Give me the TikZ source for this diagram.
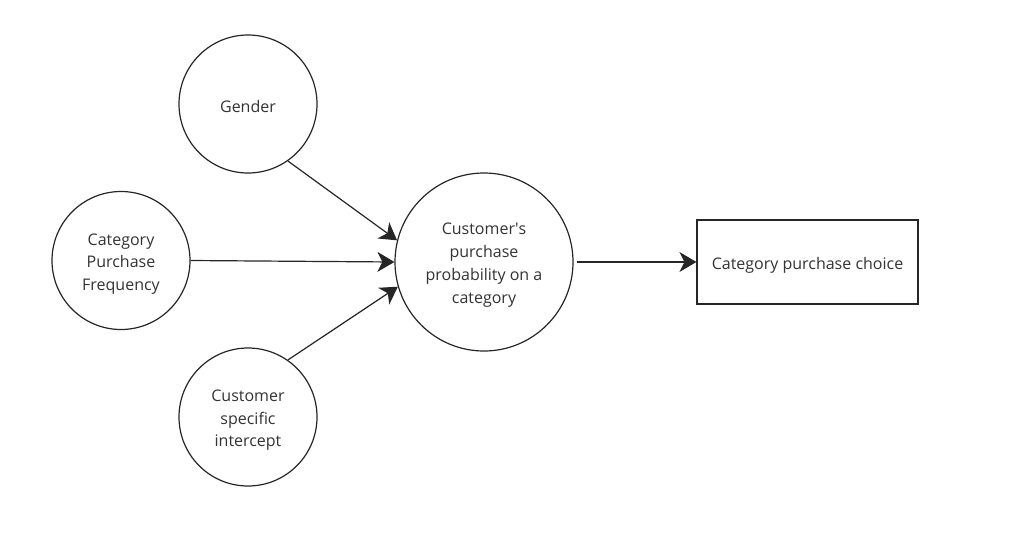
\documentclass[tikz,border=0pt]{standalone}
\usepackage{fontspec}
\setmainfont{Open Sans}
\usepackage{tikz}
\usetikzlibrary{arrows.meta, positioning}
\definecolor{ink}{HTML}{262626}
\definecolor{txt}{HTML}{333333}
\newcommand{\topstrut}{\rule{0pt}{18pt}}

\tikzset{
  factor/.style={circle, draw=ink, line width=1.2pt, minimum size=138pt, inner sep=0pt,
    align=center, text=txt, font=\fontsize{16}{22.5}\selectfont},
  outcome/.style={circle, draw=ink, line width=1.2pt, minimum size=178pt, inner sep=0pt,
    align=center, text=txt, font=\fontsize{16}{23}\selectfont},
  choicebox/.style={rectangle, draw=ink, line width=1.2pt, minimum width=221pt, minimum height=84pt,
    text=txt, font=\fontsize{16}{22.5}\selectfont},
  arr/.style={-{Stealth[length=17pt, width=20pt, inset=5pt]}, draw=ink, line width=1.2pt}
}

\begin{document}
\begin{tikzpicture}[x=1pt, y=-1pt]
  \useasboundingbox (0,0) rectangle (1014,536);

  % Eingangsgroessen
  \node[factor] (gender) at (248,104) {\topstrut Gender};
  \node[factor] (freq) at (121,260.5) {\topstrut Category\\Purchase\\Frequency};
  \node[factor] (icpt) at (248,417) {\topstrut Customer\\specific\\intercept};

  % Wahrscheinlichkeit und Wahl
  \node[outcome] (prob) at (484,262) {\topstrut Customer\textquotesingle s\\purchase\\probability on a\\category};
  \node[choicebox] (choice) at (807.5,262) {\topstrut Category purchase choice};

  % Pfeile
  \draw[arr] (gender.305) -- (prob.166);
  \draw[arr] (freq.east) -- (prob.west);
  \draw[arr] (icpt.55) -- (prob.196);
  \draw[arr] ([xshift=3pt]prob.east) -- (choice.west);
\end{tikzpicture}
\end{document}
